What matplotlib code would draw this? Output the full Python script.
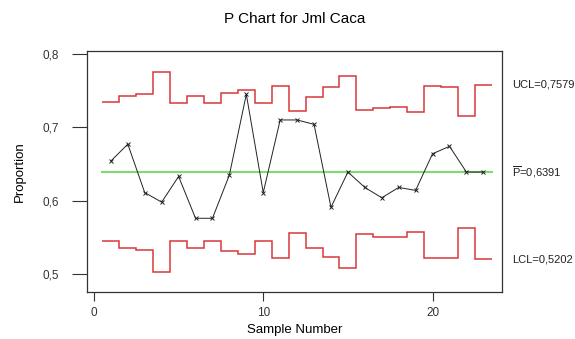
import numpy as np
import matplotlib
matplotlib.use('Agg')
import matplotlib.pyplot as plt

plt.rcParams['font.family'] = ['Liberation Sans', 'DejaVu Sans']
plt.rcParams['mathtext.fontset'] = 'custom'
plt.rcParams['mathtext.rm'] = 'Liberation Sans'

# Dane
sample = np.arange(1, 24)
proportion = [0.654, 0.677, 0.611, 0.598, 0.633, 0.576, 0.576, 0.635, 0.745, 0.611,
              0.710, 0.710, 0.704, 0.591, 0.639, 0.618, 0.604, 0.618, 0.614, 0.664,
              0.674, 0.639, 0.639]
ucl = [0.735, 0.742, 0.7455, 0.776, 0.7337, 0.742, 0.7337, 0.747, 0.7505, 0.7337,
       0.7564, 0.7223, 0.7419, 0.7555, 0.770, 0.7237, 0.7269, 0.7282, 0.721, 0.7564,
       0.755, 0.7151, 0.7579]
lcl = [0.5452, 0.5361, 0.533, 0.503, 0.545, 0.536, 0.545, 0.5312, 0.527, 0.545,
       0.5217, 0.5557, 0.536, 0.523, 0.5084, 0.5543, 0.5507, 0.5507, 0.557, 0.5217,
       0.5225, 0.5625, 0.5202]
p_bar = 0.6391
labels = ['UCL=0,7579', r'$\overline{\mathrm{P}}$=0,6391', 'LCL=0,5202']
yticks = [0.5, 0.6, 0.7, 0.8]
yticklabels = ['0,5', '0,6', '0,7', '0,8']
xticks = [0, 10, 20]

fig = plt.figure(figsize=(5.75, 3.39), dpi=100)
ax = fig.add_axes([0.1513, 0.1386, 0.7217, 0.711])

edges = np.arange(0.5, len(sample) + 1)
red = '#d8383c'
ax.stairs(ucl, edges, baseline=None, color=red, lw=1.1)
ax.stairs(lcl, edges, baseline=None, color=red, lw=1.1)
ax.plot([edges[0], edges[-1]], [p_bar, p_bar], color='#7ddc6e', lw=1.5)
ax.plot(sample, proportion, color='#222222', lw=0.7, marker='x', ms=3.5, mew=0.7)

ax.set_xlim(-0.41, 24.1)
ax.set_ylim(0.4755, 0.804)
ax.set_xticks(xticks)
ax.set_yticks(yticks)
ax.set_yticklabels(yticklabels)
ax.tick_params(axis='y', direction='out', length=11, width=0.8, pad=9,
               labelsize=8.5, colors='#333333')
ax.tick_params(axis='x', direction='out', length=6.5, width=0.8, pad=4,
               labelsize=8.5, colors='#333333')
for s in ax.spines.values():
    s.set_color('#333333')
    s.set_linewidth(0.9)

# Etykiety po prawej stronie
for txt, yv in zip(labels, [ucl[-1], p_bar, lcl[-1]]):
    ax.text(1.025, yv, txt, transform=ax.get_yaxis_transform(), fontsize=8,
            va='center', ha='left', color='#222222')

ax.set_title('P Chart for Jml Caca', fontsize=11, pad=20)
ax.set_xlabel('Sample Number', fontsize=9.5, labelpad=4)
ax.set_ylabel('Proportion', fontsize=9.5, labelpad=12)

plt.savefig('out.png', dpi=100)
